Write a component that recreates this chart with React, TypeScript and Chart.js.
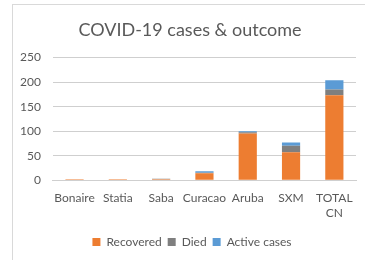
import React, { useEffect, useRef } from "react";
import { Chart, registerables } from "chart.js";

Chart.register(...registerables);

const categories: (string | string[])[] = ["Bonaire", "Statia", "Saba", "Curacao", "Aruba", "SXM", ["TOTAL", "CN"]];
const recovered = [2, 2, 2, 14, 95, 57, 173];
const died = [0, 0, 1, 1, 3, 13, 12];
const active = [0, 0, 0, 3, 2, 7, 19];
const yMax = 250;
const yStep = 50;

const FONT = "Lato, 'Open Sans', sans-serif";
const GRID = "#CFCFCF";

const blockShift = {
  id: "blockShift",
  afterLayout(chart: any) {
    const t = chart.titleBlock;
    if (t) {
      t.left += 8;
      t.right += 8;
    }
    const l = chart.legend;
    if (l) {
      l.left += 10;
      l.right += 10;
    }
  },
};

export default function App() {
  const ref = useRef<HTMLCanvasElement>(null);
  useEffect(() => {
    if (!ref.current) return;
    const chart = new Chart(ref.current, {
      type: "bar",
      data: {
        labels: categories,
        datasets: [
          { label: "Recovered", data: recovered, backgroundColor: "#ED7D31" },
          { label: "Died", data: died, backgroundColor: "#7F7F7F" },
          { label: "Active cases", data: active, backgroundColor: "#5B9BD5" },
        ],
      },
      plugins: [blockShift],
      options: {
        animation: false,
        responsive: false,
        maintainAspectRatio: false,
        layout: { padding: { left: 8, right: 9, top: 13, bottom: 2 } },
        datasets: { bar: { categoryPercentage: 1, barPercentage: 0.42 } },
        plugins: {
          title: {
            display: true,
            text: "COVID-19 cases & outcome",
            color: "#595959",
            font: { family: FONT, size: 18, weight: "normal" },
            padding: { top: 4, bottom: 17 },
          },
          legend: {
            position: "bottom",
            labels: {
              color: "#595959",
              font: { family: FONT, size: 12 },
              boxWidth: 8,
              boxHeight: 8,
              padding: 6,
            },
          },
          tooltip: { enabled: false },
        },
        scales: {
          x: {
            stacked: true,
            grid: { display: false },
            border: { color: GRID },
            ticks: { color: "#595959", font: { family: FONT, size: 12 }, maxRotation: 0, autoSkip: false, padding: 3 },
            afterFit: (axis: any) => {
              axis.height += 7;
            },
          },
          y: {
            stacked: true,
            min: 0,
            max: yMax,
            grid: { display: true, color: GRID, lineWidth: 1, drawTicks: false },
            border: { display: false },
            ticks: { stepSize: yStep, color: "#595959", font: { family: FONT, size: 12 }, padding: 12 },
          },
        },
      },
    });
    return () => chart.destroy();
  }, []);
  return (
    <div style={{ position: "fixed", left: 0, top: 0, width: 365, height: 260, background: "#fff", overflow: "hidden" }}>
      <div style={{ position: "absolute", left: 12, top: 4, width: 400, height: 300, border: "1px solid #D9D9D9" }} />
      <canvas ref={ref} width={365} height={258} style={{ position: "absolute", left: 0, top: 2 }} />
    </div>
  );
}
